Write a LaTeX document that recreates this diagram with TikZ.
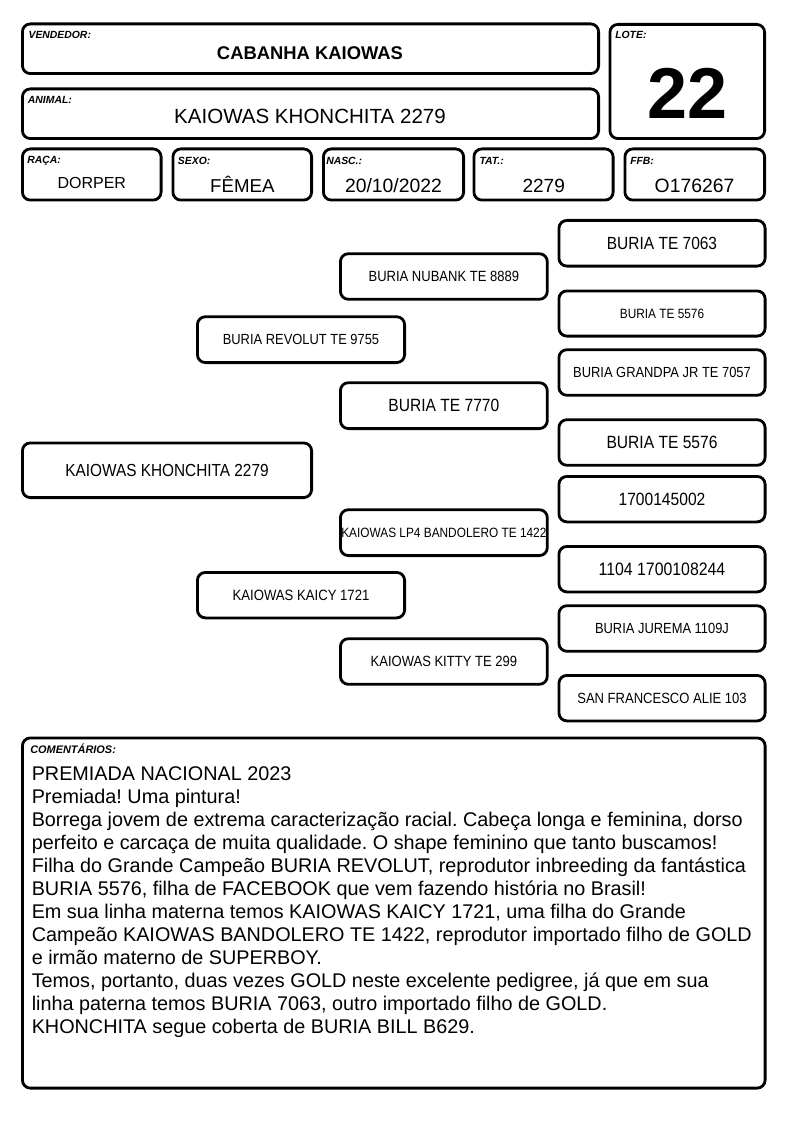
\documentclass[tikz,border=0pt]{standalone}
\usepackage{fontspec}
\setmainfont{Liberation Sans}
\newfontfamily\condfont[FakeStretch=0.88]{Liberation Sans}
\frenchspacing
\tikzset{
  frame/.style={draw, line width=2.1pt, rounded corners=6pt, inner sep=0pt, fill=white, align=center},
  lbl/.style={font=\fontsize{7.8}{9}\selectfont\bfseries\itshape, anchor=base west, inner sep=0pt},
  val/.style={anchor=base, inner sep=0pt},
}
\newcommand\bx[7]{%
  \pgfmathsetmacro\mybw{(#4-#2-2.8)*0.75}%
  \pgfmathsetmacro\mybh{(#5-#3-2.8)*0.75}%
  \node[frame, minimum width=\mybw pt, minimum height=\mybh pt, #6] (#1) at ({(#2+#4)/2},{(#3+#5)/2}) {#7};}
\newcommand\pf[1]{\condfont\fontsize{#1}{#1}\selectfont}
\begin{document}
\begin{tikzpicture}[x=0.75pt, y=-0.75pt]
\useasboundingbox (0,0) rectangle (794,1123);
% header boxes
\bx{vend}{21}{22.5}{600}{75}{}{}
\bx{anim}{21}{87.5}{600}{140}{}{}
\bx{lote}{608.5}{23}{766}{140}{}{}
\bx{raca}{21}{147.5}{162.5}{201.5}{}{}
\bx{sexo}{171.5}{147.5}{313}{201.5}{}{}
\bx{nasc}{322}{147.5}{465}{201.5}{}{}
\bx{tat}{472.5}{147.5}{614.5}{201.5}{}{}
\bx{ffb}{623.5}{147.5}{766}{201.5}{}{}
% labels
\node[lbl] (lvend) at (28.3,39) {VENDEDOR:};
\node[lbl] (lanim) at (27.7,103.3) {ANIMAL:};
\node[lbl] (llote) at (615,39) {LOTE:};
\node[lbl] (lraca) at (27,164) {RAÇA:};
\node[lbl] (lsexo) at (177.7,164.5) {SEXO:};
\node[lbl] (lnasc) at (326,164.5) {NASC.:};
\node[lbl] (ltat) at (479.3,164.5) {TAT.:};
\node[lbl] (lffb) at (630,164.5) {FFB:};
% values
\node[val, font=\fontsize{13.8}{16}\selectfont\bfseries] (vvend) at (310,60) {CABANHA KAIOWAS};
\node[val, font=\fontsize{15.4}{18}\selectfont] (vanim) at (310,123.3) {KAIOWAS KHONCHITA 2279};
\node[val, font=\fontsize{54}{60}\selectfont\bfseries] (vlote) at (687.5,119) {22};
\node[val, font=\fontsize{12}{14}\selectfont] (vraca) at (91.8,188.3) {DORPER};
\node[val, font=\fontsize{14}{16}\selectfont] (vsexo) at (242.3,192.6) {FÊMEA};
\node[val, font=\fontsize{14.5}{16}\selectfont] (vnasc) at (393.5,192.6) {20/10/2022};
\node[val, font=\fontsize{14.3}{16}\selectfont] (vtat) at (543.7,192.4) {2279};
\node[val, font=\fontsize{14.5}{16}\selectfont] (vffb) at (694.5,192.4) {O176267};
% pedigree
\bx{a}{21}{441.5}{313}{499}{font=\pf{13.1}}{KAIOWAS KHONCHITA 2279}
\bx{p}{196}{315.3}{406}{364}{font=\pf{11}}{BURIA REVOLUT TE 9755}
\bx{m}{196}{571}{406}{619.3}{font=\pf{11.2}}{KAIOWAS KAICY 1721}
\bx{pp}{339}{252.3}{548.7}{300.7}{font=\pf{11.1}}{BURIA NUBANK TE 8889}
\bx{pm}{339}{381.3}{548.7}{430}{font=\pf{13.3}}{BURIA TE 7770}
\bx{mp}{339}{508.3}{548.7}{557}{font=\pf{10.1}}{KAIOWAS LP4 BANDOLERO TE 1422}
\bx{mm}{339}{637.3}{548.7}{685.7}{font=\pf{11.1}}{KAIOWAS KITTY TE 299}
\bx{ppp}{557.5}{219}{766.5}{267.5}{font=\pf{13.2}}{BURIA TE 7063}
\bx{ppm}{557.5}{289.5}{766.5}{337.5}{font=\pf{10.1}}{BURIA TE 5576}
\bx{pmp}{557.5}{348.3}{766.5}{396.7}{font=\pf{11}}{BURIA GRANDPA JR TE 7057}
\bx{pmm}{557.5}{418.3}{766.5}{466.7}{font=\pf{13.3}}{BURIA TE 5576}
\bx{mpp}{557.5}{475}{766.5}{523.3}{font=\pf{13.3}}{1700145002}
\bx{mpm}{557.5}{545}{766.5}{593.3}{font=\pf{13.5}}{1104 1700108244}
\bx{mmp}{557.5}{604.3}{766.5}{652.7}{font=\pf{11}}{BURIA JUREMA 1109J}
\bx{mmm}{557.5}{674}{766.5}{722.3}{font=\pf{11.1}}{SAN FRANCESCO ALIE 103}
% comments
\bx{com}{21}{736.5}{766.5}{1089.5}{}{}
\node[lbl, font=\fontsize{8.2}{9}\selectfont\bfseries\itshape] (lcom) at (30,753.3) {COMENTÁRIOS:};
\node[anchor=north west, inner sep=0pt, align=left, font=\fontsize{14.85}{17.25}\selectfont] (tcom) at (31.5,766.3) {PREMIADA NACIONAL 2023\\
Premiada! Uma pintura!\\
Borrega jovem de extrema caracterização racial. Cabeça longa e feminina, dorso\\
perfeito e carcaça de muita qualidade. O shape feminino que tanto buscamos!\\
Filha do Grande Campeão BURIA REVOLUT, reprodutor inbreeding da fantástica\\
BURIA 5576, filha de FACEBOOK que vem fazendo história no Brasil!\\
Em sua linha materna temos KAIOWAS KAICY 1721, uma filha do Grande\\
Campeão KAIOWAS BANDOLERO TE 1422, reprodutor importado filho de GOLD\\
e irmão materno de SUPERBOY.\\
Temos, portanto, duas vezes GOLD neste excelente pedigree, já que em sua\\
linha paterna temos BURIA 7063, outro importado filho de GOLD.\\
KHONCHITA segue coberta de BURIA BILL B629.};
\end{tikzpicture}
\end{document}
